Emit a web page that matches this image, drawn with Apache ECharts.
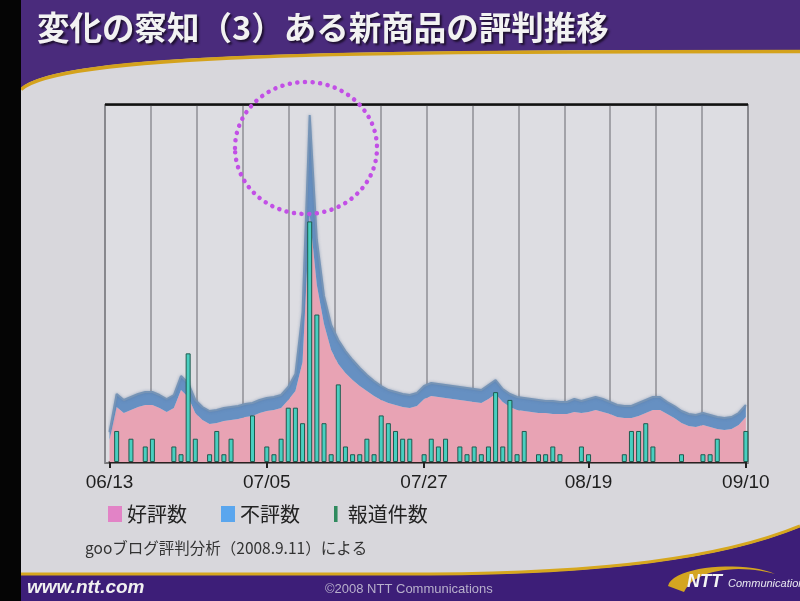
<!DOCTYPE html>
<html><head><meta charset="utf-8">
<script src="https://cdn.jsdelivr.net/npm/echarts@6/dist/echarts.min.js"></script>
<style>html,body{margin:0;padding:0;background:#000;}#c{width:800px;height:601px;}</style>
</head><body><div id="c"></div>
<script>
const dates = ['06/13','06/14','06/15','06/16','06/17','06/18','06/19','06/20','06/21','06/22','06/23','06/24','06/25','06/26','06/27','06/28','06/29','06/30',
'07/01','07/02','07/03','07/04','07/05','07/06','07/07','07/08','07/09','07/10','07/11','07/12','07/13','07/14','07/15','07/16','07/17','07/18','07/19','07/20','07/21','07/22','07/23','07/24','07/25','07/26','07/27','07/28','07/29','07/30','07/31',
'08/01','08/02','08/03','08/04','08/05','08/06','08/07','08/08','08/09','08/10','08/11','08/12','08/13','08/14','08/15','08/16','08/17','08/18','08/19','08/20','08/21','08/22','08/23','08/24','08/25','08/26','08/27','08/28','08/29','08/30','08/31',
'09/01','09/02','09/03','09/04','09/05','09/06','09/07','09/08','09/09','09/10'];
const tickLabels = ['06/13','07/05','07/27','08/19','09/10'];
// 好評数 (positive)
const positive = [22,55,49,52,55,57,57,54,50,54, 72,65,49,42,38,39,41,42,43,45, 46,49,51,52,54,62,71,100,247,177,
 138,112,98,89,82,76,71,66,62,59, 57,55,54,56,63,66,65,64,63,62, 61,60,59,63,68,60,55,52,51,50,
 49,49,48,48,48,50,49,50,52,50, 48,45,44,44,46,49,52,52,48,44, 39,36,35,37,35,33,32,33,37,45];
// 不評数 (negative)
const negative = [8,13,13,13,13,13,13,13,13,13, 14,14,13,13,13,13,13,13,13,13, 13,13,13,13,13,13,17,50,100,45,
 28,25,24,22,20,18,16,15,14,13, 13,13,13,13,13,13,13,13,13,13, 13,13,13,14,14,13,13,13,13,13,
 13,12,13,12,12,13,12,13,13,13, 12,12,12,12,13,13,13,13,12,12, 12,12,12,12,12,12,12,12,12,12];
// 報道件数 (news count)
const news = [0,4,0,3,0,2,3,0,0,2, 1,14,3,0,1,4,1,3,0,0, 6,0,2,1,3,7,7,5,31,19,
 5,1,10,2,1,1,3,1,6,5, 4,3,3,0,1,3,2,3,0,2, 1,2,1,2,9,2,8,1,4,0,
 1,1,2,1,0,0,2,1,0,0, 0,0,1,4,4,5,2,0,0,0, 1,0,0,1,1,3,0,0,0,4];
const seriesNames = ['好評数','不評数','報道件数'];

// decorative slide shapes: sample cubic bezier into polygon points
function cubic(p0, p1, p2, p3, n) {
  const pts = [];
  for (let k = 0; k <= n; k++) {
    const t = k / n, u = 1 - t;
    pts.push([u*u*u*p0[0] + 3*u*u*t*p1[0] + 3*u*t*t*p2[0] + t*t*t*p3[0],
              u*u*u*p0[1] + 3*u*u*t*p1[1] + 3*u*t*t*p2[1] + t*t*t*p3[1]]);
  }
  return pts;
}
const headerPts = [[21,0],[800,0]].concat(cubic([800,50],[350,50],[60,52],[21,88],40));
const footerPts = [[21,601],[21,575],[430,575]].concat(cubic([430,575],[600,574],[720,560],[800,527],40)).concat([[800,601]]);
const swooshPts = cubic([668,586],[672,566],[745,560],[775,574],20).concat(cubic([775,574],[745,565],[695,567],[684,592],20));

const chart = echarts.init(document.getElementById('c'));
const showTick = (i, v) => tickLabels.indexOf(v) >= 0;
const jp = '"Noto Sans CJK JP", sans-serif';
chart.setOption({
  animation: false,
  backgroundColor: '#d8d7dc',
  grid: [
    {left: 105, right: 52, top: 105, bottom: 138, show: true, backgroundColor: '#dddde2', borderColor: '#555', borderWidth: 1.5},
    {left: 109.5, right: 54.15, top: 105, bottom: 139}
  ],
  xAxis: [
    {gridIndex: 0, type: 'value', min: 0, max: 14, interval: 1, axisLine: {show: false}, axisTick: {show: false}, axisLabel: {show: false},
     splitLine: {show: true, lineStyle: {color: '#8e8e94', width: 1.5}}},
    {gridIndex: 1, type: 'category', data: dates, boundaryGap: false,
     axisLine: {lineStyle: {color: '#2a2020', width: 2}},
     axisTick: {interval: showTick, length: 6, lineStyle: {color: '#222', width: 2}},
     axisLabel: {interval: showTick, color: '#1e1e1e', fontSize: 19, fontFamily: '"Liberation Sans", Arial, sans-serif', margin: 11},
     splitLine: {show: false}}
  ],
  yAxis: [
    {gridIndex: 0, type: 'value', min: 0, max: 1, show: false},
    {gridIndex: 1, type: 'value', min: 0, max: 357, show: false},
    {gridIndex: 1, type: 'value', min: 0, max: 46, show: false}
  ],
  legend: {
    left: 108, top: 504, padding: 0, itemWidth: 14, itemHeight: 16, itemGap: 34,
    textStyle: {fontSize: 20, fontFamily: jp, color: '#222'},
    data: [
      {name: seriesNames[0], icon: 'rect', itemStyle: {color: '#e283c6', borderWidth: 0}},
      {name: seriesNames[1], icon: 'rect', itemStyle: {color: '#5aa6ee', borderWidth: 0}},
      {name: seriesNames[2], icon: 'path://M0,0h4v18h-4z', itemStyle: {color: '#2f8a5e', borderWidth: 0}}
    ]
  },
  series: [
    {name: seriesNames[0], type: 'line', xAxisIndex: 1, yAxisIndex: 1, stack: 'r', data: positive, symbol: 'none',
     lineStyle: {width: 0}, areaStyle: {color: '#e8a3b4', opacity: 1}, itemStyle: {color: '#e8a3b4'}, z: 2},
    {name: seriesNames[1], type: 'line', xAxisIndex: 1, yAxisIndex: 1, stack: 'r', data: negative, symbol: 'none',
     lineStyle: {width: 2, color: '#7694b6', shadowBlur: 3, shadowColor: 'rgba(90,120,160,0.6)'}, areaStyle: {color: '#6690c2', opacity: 1}, itemStyle: {color: '#6690c2'}, z: 2},
    {name: seriesNames[2], type: 'bar', xAxisIndex: 1, yAxisIndex: 2, data: news.map(v => v === 0 ? '-' : v), barWidth: 5,
     itemStyle: {color: '#48cfc0', borderColor: '#1f5a4e', borderWidth: 1}, z: 3}
  ],
  graphic: [
    {type: 'rect', shape: {x: 0, y: 0, width: 21, height: 601}, style: {fill: '#050505'}, z: 10},
    {type: 'polygon', shape: {points: headerPts}, style: {fill: '#4a2b7c'}, z: 9},
    {type: 'bezierCurve', shape: {x1: 800, y1: 51.5, cpx1: 350, cpy1: 51.5, cpx2: 60, cpy2: 53.5, x2: 21, y2: 89.5}, style: {fill: null, stroke: '#d4a21c', lineWidth: 3.5}, z: 9},
    {type: 'text', left: 37, top: 11, style: {text: '変化の察知（3）ある新商品の評判推移', fill: '#f2f2f2', font: 'bold 32.5px "Noto Sans CJK JP", sans-serif',
      textShadowColor: 'rgba(20,10,30,0.8)', textShadowBlur: 2, textShadowOffsetX: 2, textShadowOffsetY: 2}, z: 11},
    {type: 'polygon', shape: {points: footerPts}, style: {fill: '#3d1e78'}, z: 9},
    {type: 'line', shape: {x1: 21, y1: 574, x2: 430, y2: 574}, style: {stroke: '#d6a71e', lineWidth: 3}, z: 9},
    {type: 'bezierCurve', shape: {x1: 430, y1: 574, cpx1: 600, cpy1: 573, cpx2: 720, cpy2: 559, x2: 800, y2: 526}, style: {fill: null, stroke: '#d6a71e', lineWidth: 3}, z: 9},
    {type: 'text', left: 27, top: 578, style: {text: 'www.ntt.com', fill: '#f0f0f0', font: 'italic bold 19px "Liberation Sans", Arial, sans-serif'}, z: 11},
    {type: 'text', left: 325, top: 583, style: {text: '©2008 NTT Communications', fill: '#b8b0cc', font: '13px "Liberation Sans", Arial, sans-serif'}, z: 11},
    {type: 'polygon', shape: {points: swooshPts}, style: {fill: '#d4a520'}, z: 10},
    {type: 'text', left: 687, top: 573, style: {text: 'NTT', fill: '#f4f4f4', font: 'italic bold 18px "Liberation Sans", Arial, sans-serif'}, z: 11},
    {type: 'text', left: 728, top: 578, style: {text: 'Communications', fill: '#e8e8f0', font: 'italic 11px "Liberation Sans", Arial, sans-serif'}, z: 11},
    {type: 'text', left: 85, top: 540, style: {text: 'gooブログ評判分析（2008.9.11）による', fill: '#333', font: '15.5px "Noto Sans CJK JP", sans-serif'}, z: 11},
    {type: 'line', shape: {x1: 105, y1: 104.5, x2: 748, y2: 104.5}, style: {stroke: '#111', lineWidth: 2.5}, z: 11},
    {type: 'ellipse', shape: {cx: 306, cy: 148, rx: 71, ry: 66}, style: {fill: null, stroke: '#c24fe6', lineWidth: 4.5, lineDash: [0.1, 7.5], lineCap: 'round'}, z: 20}
  ]
});
</script></body></html>
